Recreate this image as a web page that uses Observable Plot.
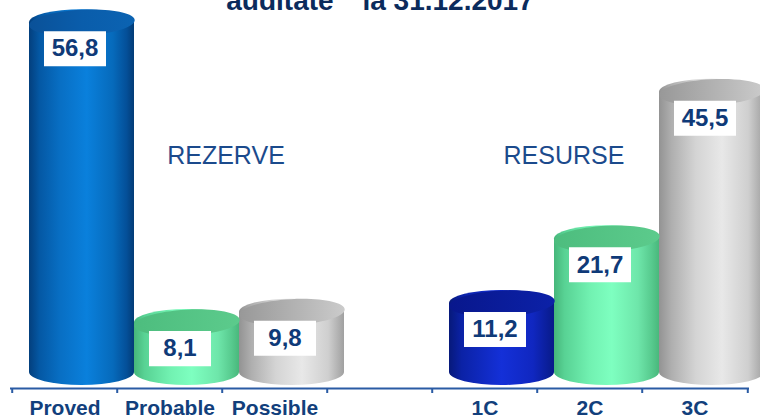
<!DOCTYPE html>
<html><head><meta charset="utf-8">
<script src="https://cdn.jsdelivr.net/npm/d3@7"></script>
<script src="https://cdn.jsdelivr.net/npm/@observablehq/plot@0.6"></script>
<style>
html,body{margin:0;padding:0;background:#fff;overflow:hidden;}
</style>
</head><body><div id="chart"></div>
<script>
// ---- data ----
const categories = ["Proved", "Probable", "Possible", " ", "1C", "2C", "3C"];
const barCategories = ["Proved", "Probable", "Possible", "1C", "2C", "3C"];
const values = [56.8, 8.1, 9.8, 11.2, 21.7, 45.5];
const valueLabels = ["56,8", "8,1", "9,8", "11,2", "21,7", "45,5"];
const groupNames = ["REZERVE", "RESURSE"];
const titleLine = "auditate\"  la 31.12.2017";

const data = barCategories.map((c, i) => ({cat: c, value: values[i], label: valueLabels[i]}));

// ---- layout ----
const W = 760, H = 419, mL = 10, mR = 11, mT = 0, mB = 31;
const step = (W - mL - mR) / categories.length;
const yMax = 63;
const pxPerUnit = (H - mT - mB) / yMax;
const depthX = 17, depthY = -16, capRy = 13;
const tickLen = 5;

const font = "'Liberation Sans', Arial, Helvetica, sans-serif";
const navy = "#0f3a78";

const bodyFill = {Proved: "url(#bBlue)", Probable: "url(#bGreen)", Possible: "url(#bGray)", "1C": "url(#bNavy)", "2C": "url(#bGreen)", "3C": "url(#bGray)"};
const topFill = {Proved: "url(#tBlue)", Probable: "url(#tGreen)", Possible: "url(#tGray)", "1C": "url(#tNavy)", "2C": "url(#tGreen)", "3C": "url(#tGray)"};

// custom symbols
const tilt = -3 * Math.PI / 180;
const ellipseSymbol = {
  draw(ctx, size) {
    const rx = Math.sqrt(size / Math.PI), ry = rx * capRy / (step / 2);
    const k = 0.5523;
    const c = Math.cos(tilt), s = Math.sin(tilt);
    const P = (x, y) => [x * c - y * s, x * s + y * c];
    const pts = [
      [rx, 0], [rx, ry * k], [rx * k, ry], [0, ry],
      [-rx * k, ry], [-rx, ry * k], [-rx, 0],
      [-rx, -ry * k], [-rx * k, -ry], [0, -ry],
      [rx * k, -ry], [rx, -ry * k], [rx, 0]
    ].map(p => P(p[0], p[1]));
    ctx.moveTo(pts[0][0], pts[0][1]);
    for (let i = 1; i < pts.length; i += 3) {
      ctx.bezierCurveTo(pts[i][0], pts[i][1], pts[i + 1][0], pts[i + 1][1], pts[i + 2][0], pts[i + 2][1]);
    }
    ctx.closePath();
  }
};
const boxSymbol = {
  draw(ctx, size) {
    const r = Math.sqrt(size / Math.PI);
    const w = 2 * r, h = r * 1.13;
    ctx.rect(-w / 2, -h / 2, w, h);
  }
};

const svg = Plot.plot({
  width: W, height: H,
  marginLeft: mL, marginRight: mR, marginTop: mT, marginBottom: mB,
  style: {fontFamily: font, background: "#fff", overflow: "visible"},
  x: {domain: categories, padding: 0, label: null},
  y: {domain: [0, yMax], axis: null},
  color: {type: "identity"},
  marks: [
    // cylinder bodies
    Plot.barY(data, {
      x: "cat", y: "value", fill: d => bodyFill[d.cat],
      dx: depthX, dy: depthY, insetTop: -capRy, insetBottom: -capRy,
      rx: step / 2, ry: capRy
    }),
    // cylinder tops
    Plot.dot(data, {
      x: "cat", y: "value", fill: d => topFill[d.cat],
      dx: depthX, dy: depthY, r: step / 2, symbol: ellipseSymbol, stroke: "none"
    }),
    // value label boxes
    Plot.dot(data, {
      x: "cat", y: "value", dx: 10, dy: 10, r: 31, symbol: boxSymbol, fill: "#ffffff", stroke: "none"
    }),
    Plot.text(data, {
      x: "cat", y: "value", text: "label", dx: 10, dy: 10,
      fontSize: 24, fontWeight: "bold", fill: navy
    }),
    // group labels
    Plot.text([groupNames[0]], {x: () => "Probable", y: () => 36.5, text: d => d, dx: 56, lineAnchor: "bottom", fontSize: 25, fill: "#1b4a8c"}),
    Plot.text([groupNames[1]], {x: () => "2C", y: () => 36.5, text: d => d, dx: -26, lineAnchor: "bottom", fontSize: 25, fill: "#1b4a8c"}),
    // axis line and boundary ticks
    Plot.ruleY([0], {stroke: "#2a5ba4", strokeWidth: 2}),
    Plot.ruleX(categories, {x: d => d, dx: -step / 2, y1: 0, y2: -tickLen / pxPerUnit, stroke: "#2a5ba4", strokeWidth: 2}),
    Plot.ruleX([categories[categories.length - 1]], {x: d => d, dx: step / 2, y1: 0, y2: -tickLen / pxPerUnit, stroke: "#2a5ba4", strokeWidth: 2}),
    Plot.axisX({tickSize: 0, tickPadding: 11.5, fontSize: 21, fontWeight: "bold", fill: "#123f7c", label: null}),
    // title (partially visible)
    Plot.text([titleLine], {text: d => d, frameAnchor: "top", lineAnchor: "bottom", dy: 9, fontSize: 28, fontWeight: "bold", fill: "#0b2b5c"})
  ]
});

// gradients
const NS = "http://www.w3.org/2000/svg";
const defs = document.createElementNS(NS, "defs");
function grad(id, stops) {
  const g = document.createElementNS(NS, "linearGradient");
  g.setAttribute("id", id);
  g.setAttribute("x1", "0"); g.setAttribute("x2", "1");
  g.setAttribute("y1", "0"); g.setAttribute("y2", "0");
  for (const [o, c] of stops) {
    const s = document.createElementNS(NS, "stop");
    s.setAttribute("offset", o);
    s.setAttribute("stop-color", c);
    g.appendChild(s);
  }
  defs.appendChild(g);
}
grad("bBlue", [[0, "#033f7d"], [0.1, "#0458a4"], [0.3, "#086fc4"], [0.55, "#0a80dc"], [0.8, "#066abb"], [0.93, "#044f98"], [1, "#033c76"]]);
grad("tBlue", [[0, "#0a5198"], [0.5, "#0a5dab"], [1, "#0b63b2"]]);
grad("bGreen", [[0, "#46b67a"], [0.1, "#58d294"], [0.35, "#72f2b2"], [0.55, "#7effc0"], [0.8, "#6ee6aa"], [0.93, "#57ca8e"], [1, "#49b87c"]]);
grad("tGreen", [[0, "#4dbd7e"], [1, "#5ccb8c"]]);
grad("bGray", [[0, "#939393"], [0.12, "#afafaf"], [0.35, "#d4d4d4"], [0.6, "#e8e8e8"], [0.85, "#cfcfcf"], [1, "#a0a0a0"]]);
grad("tGray", [[0, "#989898"], [0.6, "#b6b6b6"], [1, "#cbcbcb"]]);
grad("bNavy", [[0, "#07197a"], [0.12, "#0b22a6"], [0.5, "#1430d8"], [0.8, "#1027c0"], [1, "#081a88"]]);
grad("tNavy", [[0, "#08178c"], [1, "#0c21a8"]]);
svg.insertBefore(defs, svg.firstChild);

document.getElementById("chart").appendChild(svg);
</script>
</body></html>
